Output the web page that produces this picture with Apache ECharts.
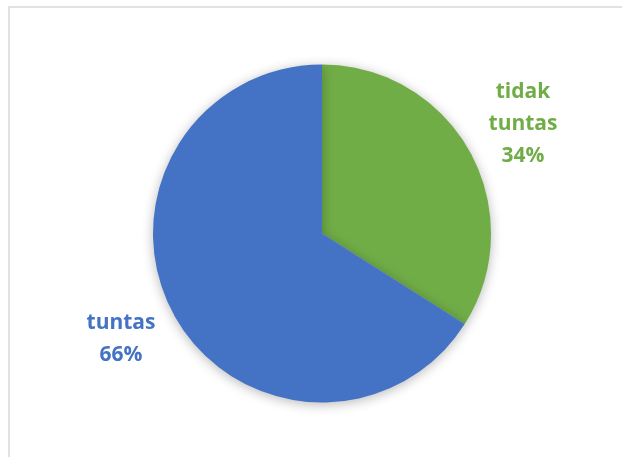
<!DOCTYPE html>
<html>
<head>
<meta charset="utf-8">
<script src="https://cdn.jsdelivr.net/npm/echarts@6/dist/echarts.min.js"></script>
<style>html,body{margin:0;padding:0;background:#fff}#c{width:622px;height:457px}</style>
</head>
<body>
<div id="c"></div>
<script>
const categories = ['tidak tuntas', 'tuntas'];
const values = [34, 66];
const colors = ['#70AD47', '#4472C4'];
const labelPos = [[523, 124], [121, 339]];

const chart = echarts.init(document.getElementById('c'), null, {renderer: 'canvas'});
chart.setOption({
  animation: false,
  backgroundColor: '#ffffff',
  graphic: [{
    type: 'rect',
    shape: {x: 9, y: 7, width: 640, height: 480},
    style: {fill: 'none', stroke: '#d9d9d9', lineWidth: 1.5},
    silent: true
  }],
  series: [{
    type: 'pie',
    center: [322, 233.5],
    radius: [0, 169],
    startAngle: 90,
    clockwise: true,
    data: categories.map((c, i) => ({
      name: c, value: values[i],
      itemStyle: {color: colors[i]},
      label: {color: colors[i]}
    })),
    itemStyle: {shadowBlur: 12, shadowColor: 'rgba(0,0,0,0.28)', shadowOffsetY: 2},
    label: {
      show: true,
      position: 'outside',
      formatter: p => p.name.replace(' ', '\n') + '\n' + Math.round(p.percent) + '%',
      fontFamily: 'Open Sans',
      fontWeight: 'bold',
      fontSize: 21,
      lineHeight: 32,
      align: 'center'
    },
    labelLine: {show: false},
    labelLayout: function (params) {
      const p = labelPos[params.dataIndex];
      return {x: p[0], y: p[1], align: 'center', verticalAlign: 'middle'};
    },
    emphasis: {disabled: true}
  }]
});
</script>
</body>
</html>
